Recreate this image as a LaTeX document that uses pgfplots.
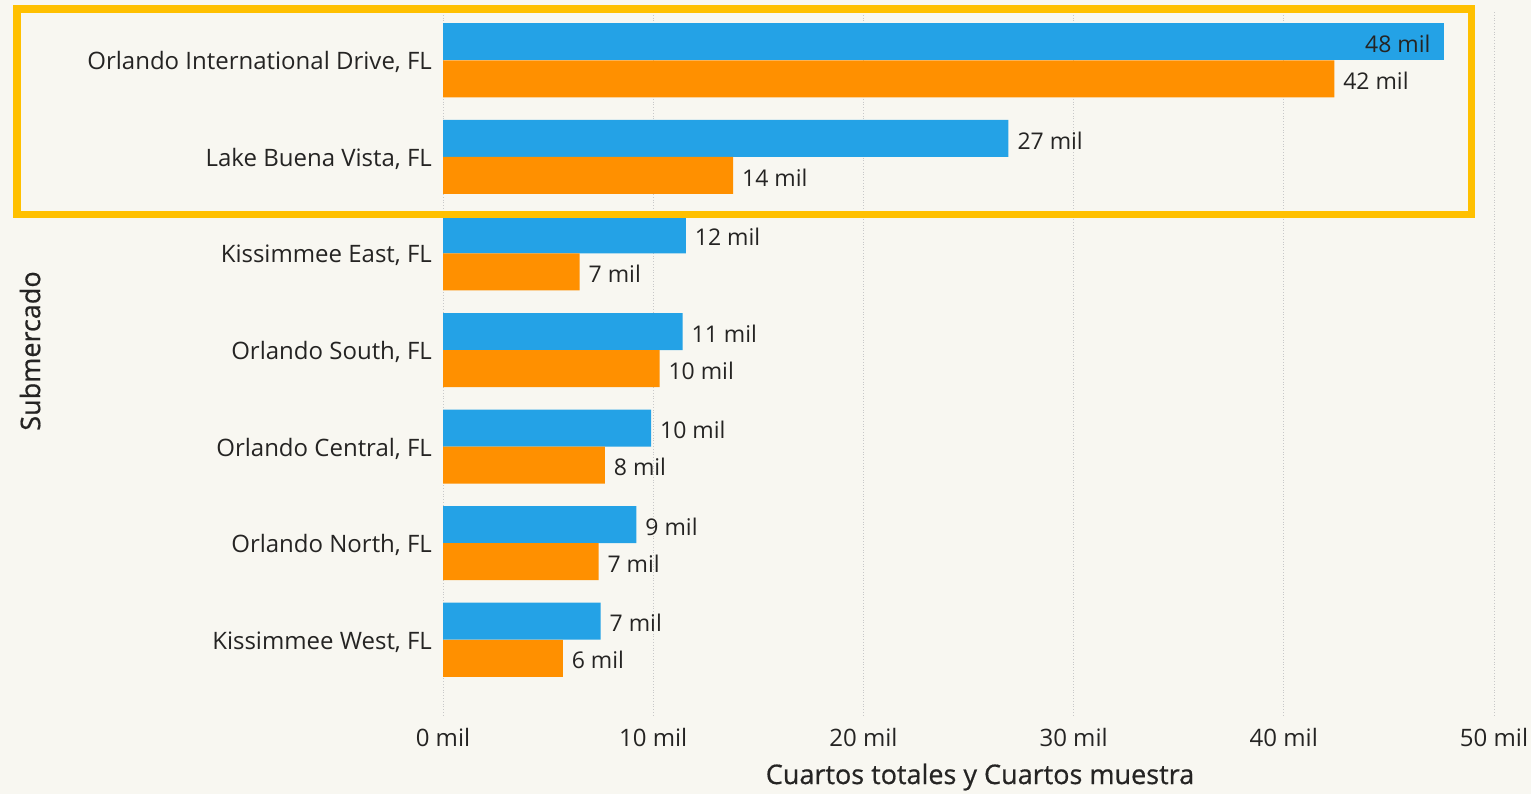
\documentclass[border=0pt]{standalone}
\usepackage{pgfplots}
\pgfplotsset{compat=1.18}
\usepackage{fontspec}
\setmainfont{Open Sans}
\definecolor{bg}{HTML}{F8F7F1}
\definecolor{cblue}{HTML}{24A2E6}
\definecolor{corange}{HTML}{FF9000}
\definecolor{cbox}{HTML}{FFC000}
\definecolor{ctext}{HTML}{252423}
\definecolor{cgrid}{HTML}{C8C8C8}
\begin{document}
\begin{tikzpicture}[x=0.5pt,y=0.5pt]
\fill[bg] (0,0) rectangle (1531,794);
\begin{axis}[
  at={(221.5pt,38.5pt)}, anchor=south west,
  scale only axis, width=525.5pt, height=352.5pt,
  xmin=0, xmax=50, ymin=-0.5, ymax=6.8, y dir=reverse,
  axis line style={draw=none},
  major tick length=0pt,
  xmajorgrids, grid style={cgrid, densely dotted, line width=0.5pt},
  xtick={0,10,20,30,40,50},
  xticklabels={0 mil,10 mil,20 mil,30 mil,40 mil,50 mil},
  xticklabel style={font=\fontsize{12}{14}\selectfont, text=ctext, yshift=-2pt},
  ytick={0,1,2,3,4,5,6},
  yticklabels={{Orlando International Drive, FL},{Lake Buena Vista, FL},{Kissimmee East, FL},{Orlando South, FL},{Orlando Central, FL},{Orlando North, FL},{Kissimmee West, FL}},
  yticklabel style={font=\fontsize{12}{14}\selectfont, text=ctext, xshift=-2pt, yshift=-1pt},
  xbar, bar width=0.383, bar shift=0pt,
  every axis plot/.append style={draw=none},
  nodes near coords, point meta=explicit symbolic,
  nodes near coords style={font=\fontsize{11.5}{13}\selectfont, text=ctext, anchor=west, xshift=1pt, yshift=-1pt},
  clip=false,
]
\addplot[fill=cblue, nodes near coords style={anchor=east, xshift=-4pt}] coordinates {
  (47.6,-0.1917) [48 mil]
};
\addplot[fill=cblue] coordinates {
  (26.9,0.8083) [27 mil]
  (11.55,1.8083) [12 mil]
  (11.4,2.8083) [11 mil]
  (9.9,3.8083) [10 mil]
  (9.2,4.8083) [9 mil]
  (7.5,5.8083) [7 mil]
};
\addplot[fill=corange] coordinates {
  (42.4,0.1917) [42 mil]
  (13.8,1.1917) [14 mil]
  (6.5,2.1917) [7 mil]
  (10.3,3.1917) [10 mil]
  (7.7,4.1917) [8 mil]
  (7.4,5.1917) [7 mil]
  (5.7,6.1917) [6 mil]
};
\end{axis}
\node[text=ctext, font=\fontsize{13.5}{15}\selectfont\addfontfeatures{FakeBold=0.6}] at (980,17) {Cuartos totales y Cuartos muestra};
\node[text=ctext, rotate=90, font=\fontsize{13.5}{15}\selectfont\addfontfeatures{FakeBold=0.6}] at (30,443) {Submercado};
\draw[cbox, line width=3.75pt] (17,785) rectangle (1471.5,579.5);
\pgfresetboundingbox
\useasboundingbox (0,0) rectangle (1531,794);
\end{tikzpicture}
\end{document}
